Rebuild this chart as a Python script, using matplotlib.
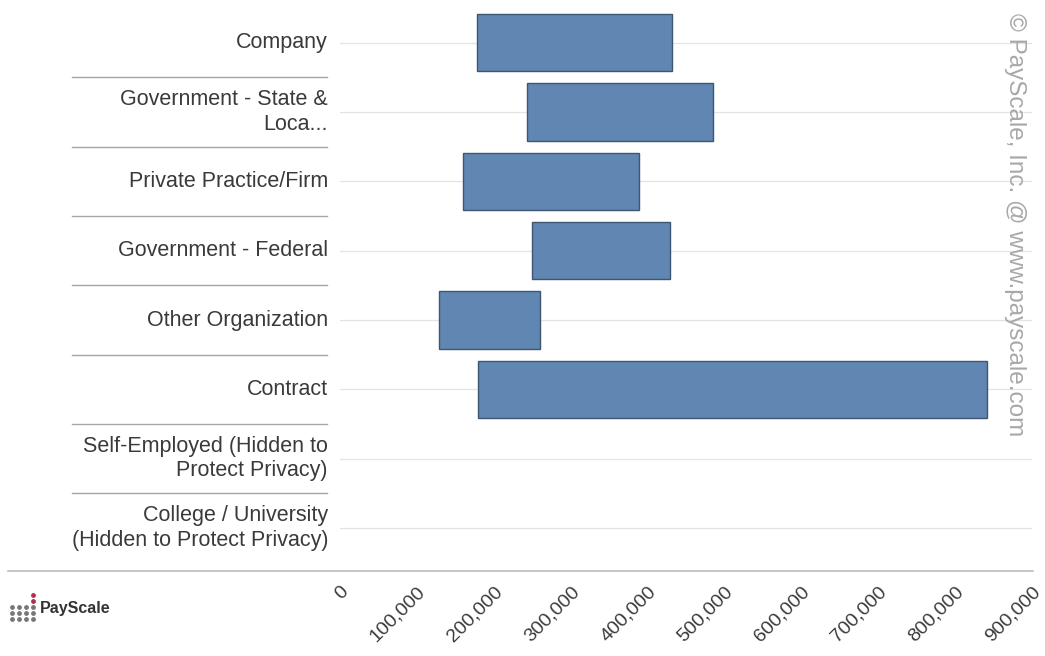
import numpy as np
import matplotlib
matplotlib.use("Agg")
import matplotlib.pyplot as plt
from matplotlib.transforms import blended_transform_factory

plt.rcParams["font.family"] = ["Liberation Sans", "DejaVu Sans"]

categories = ["Company", "Government - State &\nLoca...", "Private Practice/Firm",
              "Government - Federal", "Other Organization", "Contract",
              "Self-Employed (Hidden to\nProtect Privacy)",
              "College / University\n(Hidden to Protect Privacy)"]
low = [178000, 243000, 160000, 250000, 129000, 179000, np.nan, np.nan]
high = [432000, 485000, 389000, 429000, 260000, 841000, np.nan, np.nan]
ticks = np.arange(0, 900001, 100000)
tick_labels = ["{:,}".format(t) for t in ticks]

fig = plt.figure(figsize=(10.45, 6.56), dpi=100)
W, H = 1045, 656
ax = fig.add_axes([340 / W, 1 - 571 / H, (1032 - 340) / W, (571 - 8) / H])

y = np.arange(len(categories))
lo = np.array(low)
hi = np.array(high)
ok = ~np.isnan(lo)
ax.barh(y[ok], hi[ok] - lo[ok], left=lo[ok], height=0.83,
        color="#5f87b2", edgecolor="#3e5672", linewidth=1.0, zorder=3)

for yi in y:
    ax.axhline(yi, color="#e3e3e3", lw=0.9, zorder=1)

ax.set_xlim(0, 900000)
ax.set_ylim(7.62, -0.5)
ax.set_yticks([])
ax.set_xticks(ticks)
ax.set_xticklabels(tick_labels, rotation=45, ha="right", va="top",
                   rotation_mode="anchor", fontsize=14, color="#3a3a3a")
ax.tick_params(axis="x", length=0, pad=9)
for s in ax.spines.values():
    s.set_visible(False)

# category labels
tr = blended_transform_factory(fig.transFigure, ax.transData)
for yi, c in zip(y, categories):
    fig.text(328 / W, 0, c, transform=tr, ha="right", va="center",
             fontsize=15.5, color="#3a3a3a", linespacing=1.2).set_y(yi)

# separators between label rows
for yi in y[:-1]:
    ax.plot([72 / W, 327 / W], [yi + 0.5, yi + 0.5], transform=tr,
            color="#a5a5a5", lw=1.0, clip_on=False)

# bottom axis line
fig.add_artist(plt.Line2D([8 / W, 1033 / W], [1 - 571 / H, 1 - 571 / H],
                          color="#bdbdbd", lw=1.2))

# watermark
fig.text(1015 / W, 1 - 225 / H, "© PayScale, Inc. @ www.payscale.com",
         rotation=-90, ha="center", va="center", fontsize=17.5, color="#a8a8a8")

# logo
lax = fig.add_axes([8 / W, 1 - 622 / H, 28 / W, 30 / H])
gx, gy = np.meshgrid(np.arange(4), np.arange(3))
lax.scatter(gx.ravel(), gy.ravel(), s=6, color="#777777")
lax.scatter([3, 3], [3, 4], s=6, color="#b03050")
lax.set_xlim(-0.5, 3.5)
lax.set_ylim(-0.5, 4.5)
lax.axis("off")
fig.text(40 / W, 1 - 608 / H, "PayScale", ha="left", va="center",
         fontsize=11.5, fontweight="bold", color="#333333")

fig.savefig("out.png", dpi=100, facecolor="white")
